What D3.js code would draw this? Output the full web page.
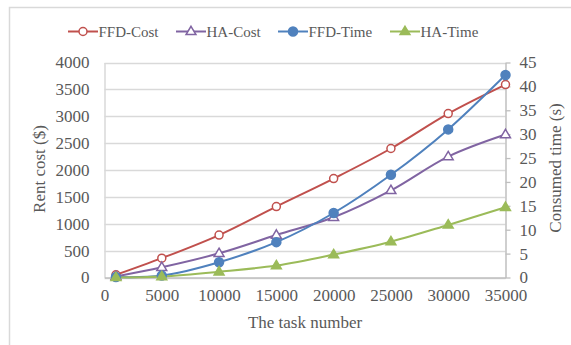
<!DOCTYPE html>
<html>
<head>
<meta charset="utf-8">
<script src="https://cdn.jsdelivr.net/npm/d3@7"></script>
<style>
  html, body { margin: 0; padding: 0; background: #fff; }
  svg { display: block; }
  text { font-family: "Liberation Serif", "Times New Roman", serif; fill: #595959; }
</style>
</head>
<body>
<script>
// Task counts on the x axis
const taskNumbers = [1000, 5000, 10000, 15000, 20000, 25000, 30000, 35000];
// Rent cost ($), left axis
const ffdCost = [50, 360, 790, 1320, 1840, 2400, 3050, 3590];
const haCost  = [20, 190, 450, 790, 1120, 1620, 2250, 2660];
// Consumed time (s), right axis
const ffdTime = [0.1, 0.4, 3.2, 7.4, 13.5, 21.5, 31.0, 42.4];
const haTime  = [0.0, 0.2, 1.2, 2.5, 4.8, 7.5, 11.0, 14.7];

const xTicks = [0, 5000, 10000, 15000, 20000, 25000, 30000, 35000];
const costTicks = [0, 500, 1000, 1500, 2000, 2500, 3000, 3500, 4000];
const timeTicks = [0, 5, 10, 15, 20, 25, 30, 35, 40, 45];

const W = 571, H = 345;
const plot = { left: 104.5, right: 505.5, top: 62.5, bottom: 277.5 };

const svg = d3.select("body").append("svg").attr("width", W).attr("height", H);

// chart area frame
svg.append("rect")
  .attr("x", 9.5).attr("y", 7.5).attr("width", W + 20).attr("height", H + 20)
  .attr("fill", "#fff").attr("stroke", "#d9d9d9").attr("stroke-width", 1.5);

const x = d3.scaleLinear().domain([0, 35000]).range([plot.left, plot.right]);
const yCost = d3.scaleLinear().domain([0, 4000]).range([plot.bottom, plot.top]);
const yTime = d3.scaleLinear().domain([0, 45]).range([plot.bottom, plot.top]);

// horizontal gridlines
svg.append("g").selectAll("line").data(costTicks).join("line")
  .attr("x1", plot.left).attr("x2", plot.right)
  .attr("y1", d => Math.round(yCost(d)) + 0.5).attr("y2", d => Math.round(yCost(d)) + 0.5)
  .attr("stroke", "#d9d9d9").attr("stroke-width", 1.3);

// left axis
const leftAxis = svg.append("g").attr("transform", `translate(${plot.left},0)`)
  .call(d3.axisLeft(yCost).tickValues(costTicks).tickSize(0).tickPadding(15).tickFormat(d3.format("d")));
leftAxis.select(".domain").attr("stroke", "#d9d9d9").attr("stroke-width", 1.5);
leftAxis.selectAll("text").style("font-size", "17px").attr("fill", "#595959");

// right axis
const rightAxis = svg.append("g").attr("transform", `translate(${plot.right},0)`)
  .call(d3.axisRight(yTime).tickValues(timeTicks).tickSizeInner(5).tickSizeOuter(0).tickPadding(9).tickFormat(d3.format("d")));
rightAxis.select(".domain").attr("stroke", "#bfbfbf").attr("stroke-width", 1.5);
rightAxis.selectAll(".tick line").attr("stroke", "#bfbfbf").attr("stroke-width", 1.3);
rightAxis.selectAll("text").style("font-size", "17px").attr("fill", "#595959");

// bottom axis
const bottomAxis = svg.append("g").attr("transform", `translate(0,${plot.bottom})`)
  .call(d3.axisBottom(x).tickValues(xTicks).tickSize(0).tickPadding(11).tickFormat(d3.format("d")));
bottomAxis.select(".domain").attr("stroke", "#bfbfbf").attr("stroke-width", 1.5);
bottomAxis.selectAll("text").style("font-size", "17px").attr("fill", "#595959");

// axis titles
svg.append("text").attr("transform", "translate(45,169) rotate(-90)")
  .attr("text-anchor", "middle").style("font-size", "17px").text("Rent cost ($)");
svg.append("text").attr("transform", "translate(561,168) rotate(-90)")
  .attr("text-anchor", "middle").style("font-size", "17px").text("Consumed time (s)");
svg.append("text").attr("x", 305).attr("y", 328)
  .attr("text-anchor", "middle").style("font-size", "17px").text("The task number");

const series = [
  { name: "FFD-Cost", values: ffdCost, y: yCost, color: "#C0504D", marker: "circle", filled: false },
  { name: "HA-Cost",  values: haCost,  y: yCost, color: "#8064A2", marker: "triangle", filled: false },
  { name: "FFD-Time", values: ffdTime, y: yTime, color: "#4F81BD", marker: "circle", filled: true },
  { name: "HA-Time",  values: haTime,  y: yTime, color: "#9BBB59", marker: "triangle", filled: true }
];

function drawMarker(g, s, cx, cy) {
  if (s.marker === "circle") {
    g.append("circle").attr("cx", cx).attr("cy", cy).attr("r", s.filled ? 4.5 : 4)
      .attr("fill", s.filled ? s.color : "#fff").attr("stroke", s.color).attr("stroke-width", 1.5);
  } else {
    const r = 5.2;
    const pts = [[cx, cy - r], [cx + r * 0.95, cy + r * 0.6], [cx - r * 0.95, cy + r * 0.6]];
    g.append("path").attr("d", "M" + pts.map(p => p.join(",")).join("L") + "Z")
      .attr("fill", s.filled ? s.color : "#fff").attr("stroke", s.color).attr("stroke-width", 1.5)
      .attr("stroke-linejoin", "miter");
  }
}

// smoothed lines and markers
series.forEach(s => {
  const line = d3.line()
    .x((d, i) => x(taskNumbers[i]))
    .y(d => s.y(d))
    .curve(d3.curveCatmullRom.alpha(0.5));
  svg.append("path").datum(s.values).attr("d", line)
    .attr("fill", "none").attr("stroke", s.color).attr("stroke-width", 2);
});
series.forEach(s => {
  const g = svg.append("g");
  s.values.forEach((v, i) => drawMarker(g, s, x(taskNumbers[i]), s.y(v)));
});

// legend
const legendItems = [
  { s: series[0], x0: 68 },
  { s: series[1], x0: 176 },
  { s: series[2], x0: 278 },
  { s: series[3], x0: 390 }
];
const ly = 31.5;
legendItems.forEach(({ s, x0 }) => {
  const g = svg.append("g");
  g.append("line").attr("x1", x0).attr("x2", x0 + 30).attr("y1", ly).attr("y2", ly)
    .attr("stroke", s.color).attr("stroke-width", 2);
  drawMarker(g, s, x0 + 15, ly);
  g.append("text").attr("x", x0 + 30.5).attr("y", ly + 5.5).style("font-size", "15px").text(s.name);
});
</script>
</body>
</html>
